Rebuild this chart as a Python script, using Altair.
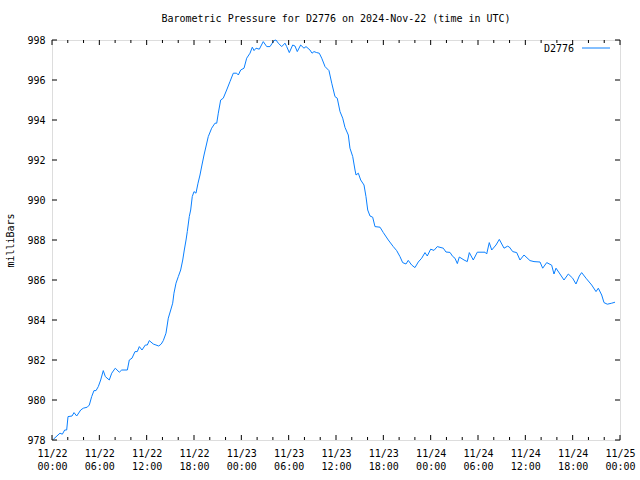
import altair as alt
import pandas as pd

# Hours since 2024-11-22 00:00 UTC
hours = [0.16, 1.01, 1.31, 1.61, 1.86, 2.03, 2.54, 2.79, 3.13, 3.64, 3.97, 4.47, 4.73, 5.03, 5.32, 5.58, 5.87,
         6.17, 6.50, 6.76, 7.26, 7.57, 8.02, 8.53, 8.84, 9.55, 9.80, 10.14, 10.52, 10.81, 11.07, 11.41, 11.83,
         12.08, 12.33, 12.84, 13.18, 13.53, 13.85, 14.11, 14.45, 14.74, 15.05, 15.30, 15.46, 15.72, 16.01,
         16.31, 16.57, 16.77, 16.99, 17.15, 17.40, 17.58, 17.78, 18.00, 18.25, 18.51, 18.76, 19.01, 19.27,
         19.81, 20.24, 20.66, 20.88, 21.08, 21.38, 21.71, 22.14, 22.56, 22.98, 23.41, 23.62, 23.92, 24.34,
         24.68, 25.10, 25.39, 25.61, 25.86, 26.28, 26.78, 27.22, 27.63, 28.14, 28.39, 28.69, 29.12, 29.53,
         29.75, 30.08, 30.51, 30.80, 31.09, 31.52, 31.94, 32.20, 32.70, 32.96, 33.21, 33.55, 33.88, 34.19,
         34.61, 35.11, 35.46, 35.87, 36.16, 36.51, 36.85, 37.14, 37.56, 37.77, 38.12, 38.41, 38.54, 38.83,
         39.13, 39.55, 39.80, 40.02, 40.31, 40.65, 40.94, 41.58, 42.00, 42.63, 43.26, 43.69, 44.11, 44.45,
         44.87, 45.16, 45.59, 46.01, 46.43, 46.86, 47.28, 47.57, 48.00, 48.42, 48.84, 49.60, 49.94, 50.45,
         50.79, 51.08, 51.38, 51.63, 52.23, 52.64, 52.90, 53.40, 53.91, 54.89, 55.10, 55.43, 55.74, 56.28,
         56.70, 57.30, 57.74, 57.97, 58.40, 58.91, 59.32, 59.83, 60.59, 61.10, 61.86, 62.20, 62.71, 63.34,
         63.63, 63.89, 64.39, 64.90, 65.45, 66.00, 66.42, 66.84, 67.14, 67.69, 68.41, 68.96, 69.25, 69.68,
         69.97, 70.39, 70.95, 71.37]
pressure = [978.03, 978.34, 978.29, 978.50, 978.50, 979.17, 979.20, 979.37, 979.20, 979.50, 979.59, 979.64,
            979.75, 980.17, 980.47, 980.47, 980.67, 981.00, 981.47, 981.17, 981.00, 981.34, 981.59, 981.39,
            981.50, 981.50, 982.00, 982.09, 982.42, 982.42, 982.67, 982.50, 982.75, 982.75, 982.97, 982.80,
            982.75, 982.70, 982.80, 982.97, 983.34, 984.09, 984.50, 984.84, 985.34, 985.84, 986.17, 986.50,
            987.00, 987.50, 988.00, 988.42, 989.17, 989.50, 990.17, 990.42, 990.34, 990.84, 991.25, 991.75,
            992.25, 993.17, 993.59, 993.84, 993.84, 994.34, 995.00, 995.09, 995.50, 995.92, 996.34, 996.34,
            996.25, 996.50, 996.59, 997.09, 997.34, 997.64, 997.47, 997.59, 997.54, 997.92, 997.67, 997.67,
            997.97, 998.00, 997.84, 997.67, 997.84, 997.67, 997.37, 997.75, 997.70, 997.42, 997.75, 997.59,
            997.67, 997.50, 997.34, 997.42, 997.37, 997.34, 997.09, 996.67, 996.47, 995.84, 995.17, 995.09,
            994.42, 994.09, 993.63, 993.25, 992.59, 992.17, 991.50, 991.25, 991.34, 991.00, 990.75, 990.17,
            989.50, 989.20, 989.14, 988.67, 988.64, 988.37, 988.00, 987.67, 987.47, 987.17, 986.87, 986.80,
            986.98, 986.75, 986.62, 986.90, 987.09, 987.37, 987.20, 987.54, 987.48, 987.67, 987.59, 987.40,
            987.38, 987.18, 987.09, 986.82, 987.15, 987.00, 986.92, 987.37, 987.00, 987.39, 987.39, 987.30,
            987.87, 987.50, 987.75, 988.03, 987.59, 987.69, 987.65, 987.42, 987.37, 987.00, 987.25, 986.97,
            986.92, 986.90, 986.59, 986.87, 986.74, 986.30, 986.59, 986.30, 986.00, 986.30, 986.09, 985.80,
            986.20, 986.37, 986.09, 985.75, 985.42, 985.59, 985.25, 984.87, 984.79, 984.84, 984.89]

x_major = [0, 6, 12, 18, 24, 30, 36, 42, 48, 54, 60, 66, 72]
x_minor = [h for h in range(0, 73, 2) if h % 6 != 0]
x_days = ["11/22", "11/22", "11/22", "11/22", "11/23", "11/23", "11/23", "11/23",
          "11/24", "11/24", "11/24", "11/24", "11/25"]
x_times = ["00:00", "06:00", "12:00", "18:00", "00:00", "06:00", "12:00", "18:00",
           "00:00", "06:00", "12:00", "18:00", "00:00"]
y_ticks = [978, 980, 982, 984, 986, 988, 990, 992, 994, 996, 998]

series_name = "D2776"
title_text = "Barometric Pressure for D2776 on 2024-Nov-22 (time in UTC)"
y_title = "milliBars"

FONT = "DejaVu Sans Mono"
W, H = 568, 400
LINE_COLOR = "#0a80ff"

df = pd.DataFrame({"h": hours, "p": pressure})
major_df = pd.DataFrame({"h": x_major})
minor_df = pd.DataFrame({"h": x_minor})
yt_df = pd.DataFrame({"p": y_ticks})
leg_df = pd.DataFrame({"name": [series_name]})

xscale = alt.Scale(domain=[0, 72], nice=False, zero=False)
yscale = alt.Scale(domain=[978, 998], nice=False, zero=False)

days_js = "[" + ",".join(f"'{d}'" for d in x_days) + "]"
times_js = "[" + ",".join(f"'{t}'" for t in x_times) + "]"
label_expr = f"[{days_js}[round(datum.value/6)], {times_js}[round(datum.value/6)]]"

x_axis = alt.Axis(values=x_major, labelExpr=label_expr, ticks=False, domain=False, grid=False,
                  labelPadding=8, labelFont=FONT, labelFontSize=10, labelColor="black",
                  labelLineHeight=13, labelBaseline="top", labelFlush=False, labelOverlap=False,
                  title=None)
y_axis = alt.Axis(values=y_ticks, format="d", ticks=False, domain=False, grid=False,
                  labelPadding=7, labelFont=FONT, labelFontSize=10, labelColor="black",
                  labelFlush=False, labelOverlap=False,
                  title=y_title, titleFont=FONT, titleFontSize=10, titleFontWeight="normal",
                  titleColor="black", titleX=-42, titleY=H / 2, titleAngle=-90,
                  titleAlign="center", titleBaseline="middle")

X = alt.X("h:Q", scale=xscale, axis=x_axis)
Y = alt.Y("p:Q", scale=yscale, axis=y_axis)

line = alt.Chart(df).mark_line(color=LINE_COLOR, strokeWidth=1, interpolate="linear").encode(x=X, y=Y)

MAJ, MIN = 5, 3
bx_major = alt.Chart(major_df).mark_rule(color="black", strokeWidth=1).encode(
    x=X, y=alt.value(H), y2=alt.value(H - MAJ))
tx_major = alt.Chart(major_df).mark_rule(color="black", strokeWidth=1).encode(
    x=X, y=alt.value(0), y2=alt.value(MAJ))
bx_minor = alt.Chart(minor_df).mark_rule(color="black", strokeWidth=1).encode(
    x=X, y=alt.value(H), y2=alt.value(H - MIN))
tx_minor = alt.Chart(minor_df).mark_rule(color="black", strokeWidth=1).encode(
    x=X, y=alt.value(0), y2=alt.value(MIN))
ly = alt.Chart(yt_df).mark_rule(color="black", strokeWidth=1).encode(
    y=Y, x=alt.value(0), x2=alt.value(MAJ))
ry = alt.Chart(yt_df).mark_rule(color="black", strokeWidth=1).encode(
    y=Y, x=alt.value(W), x2=alt.value(W - MAJ))

leg_text = alt.Chart(leg_df).mark_text(font=FONT, fontSize=10, align="right", baseline="middle",
                                        color="black").encode(
    text="name:N", x=alt.value(522), y=alt.value(9))
leg_line = alt.Chart(leg_df).mark_rule(color=LINE_COLOR, strokeWidth=1).encode(
    x=alt.value(530), x2=alt.value(558), y=alt.value(8))

chart = alt.layer(line, bx_major, tx_major, bx_minor, tx_minor, ly, ry, leg_text, leg_line).properties(
    width=W, height=H,
    padding={"left": 52, "top": 40, "right": 20, "bottom": 40},
    autosize=alt.AutoSizeParams(type="none"),
    title=alt.TitleParams(title_text, font=FONT, fontSize=10, fontWeight="normal", color="black",
                          anchor="middle", offset=11),
).configure_view(stroke="black", strokeWidth=1).configure(background="white")

chart.save("out.html", embed_options={"renderer": "svg", "actions": False})
